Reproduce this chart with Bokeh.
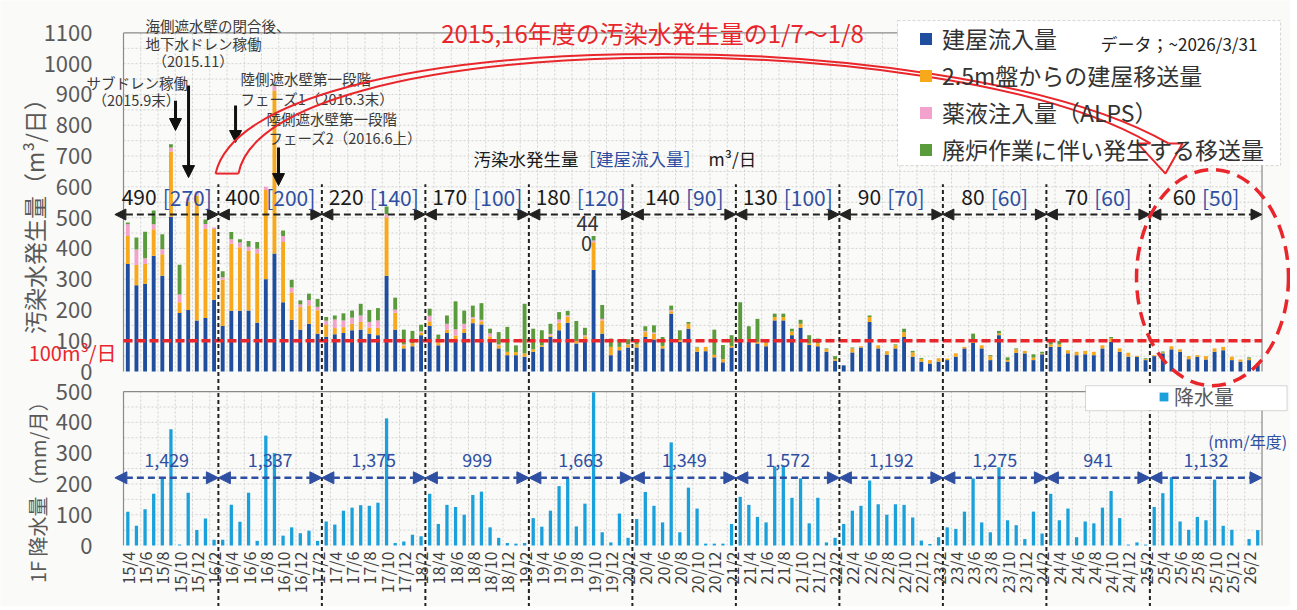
import math
from bokeh.plotting import figure
from bokeh.models import (ColumnDataSource, Range1d, FixedTicker, Label, Arrow, NormalHead,
                          Legend, LegendItem, BoxAnnotation, AllLabels, LinearAxis)
from bokeh.embed import file_html
from bokeh.resources import INLINE

FONT = "Noto Sans CJK JP"

# ---------------- data ----------------
month_index = list(range(132))          # 0 = 2015/4 ... 131 = 2026/3
tick_months = list(range(0, 132, 2))
tick_labels = [f"{15 + (m + 3) // 12}/{(m + 3) % 12 + 1}" for m in tick_months]

# 建屋流入量
inflow = [349, 280, 285, 376, 311, 503, 190, 200, 166, 174, 233, 148,
          197, 197, 198, 159, 300, 383, 225, 168, 136, 155, 123, 113,
          121, 125, 134, 136, 123, 118, 311, 136, 75, 82, 118, 148,
          85, 125, 102, 125, 157, 153, 104, 75, 53, 53, 48, 64,
          80, 112, 134, 158, 91, 96, 330, 123, 53, 69, 78, 78,
          112, 104, 75, 188, 96, 139, 64, 66, 46, 30, 78, 96,
          96, 91, 82, 166, 166, 118, 142, 86, 82, 64, 35, 20,
          62, 78, 161, 75, 55, 75, 112, 48, 32, 26, 32, 37,
          48, 75, 93, 75, 37, 118, 32, 61, 59, 37, 56, 80,
          80, 59, 53, 56, 53, 75, 96, 64, 48, 48, 37, 50,
          59, 72, 64, 40, 48, 39, 64, 69, 37, 32, 37, 21]
# 2.5m盤からの建屋移送量
transfer_25m = [91, 66, 64, 86, 70, 212, 35, 352, 405, 290, 230, 150,
                218, 207, 194, 225, 290, 530, 196, 89, 73, 60, 76, 38,
                20, 19, 21, 25, 19, 24, 190, 55, 10, 10, 8, 15,
                10, 11, 15, 14, 15, 10, 10, 10, 11, 10, 11, 8,
                5, 5, 25, 20, 8, 18, 90, 43, 27, 11, 8, 10,
                16, 19, 8, 8, 6, 16, 14, 14, 8, 10, 5, 5,
                8, 5, 12, 11, 11, 12, 13, 5, 10, 9, 5, 0,
                13, 4, 16, 10, 11, 10, 16, 14, 9, 11, 11, 5,
                11, 5, 8, 10, 13, 6, 5, 11, 8, 8, 3, 8,
                8, 10, 11, 11, 11, 10, 12, 11, 13, 3, 3, 3,
                3, 10, 8, 10, 5, 11, 11, 11, 11, 7, 5, 7]
# 薬液注入量（ALPS）
alps = [38, 50, 19, 16, 16, 13, 25, 13, 14, 15, 5, 8,
        15, 15, 13, 15, 10, 15, 19, 16, 9, 17, 11, 14,
        28, 22, 20, 21, 19, 24, 10, 10, 3, 0, 4, 18,
        3, 19, 20, 16, 5, 5, 10, 3, 0, 0, 0, 0,
        0, 5, 10, 4, 0, 4, 6, 5, 0, 0, 2, 0,
        4, 4, 0, 4, 0, 0, 0, 0, 0, 0, 0, 0,
        0, 0, 0, 0, 0, 0, 0, 0, 0, 0, 0, 0,
        0, 0, 0, 0, 0, 0, 0, 0, 0, 0, 0, 0,
        0, 0, 0, 0, 0, 0, 0, 0, 0, 0, 0, 0,
        0, 0, 0, 0, 0, 0, 0, 0, 0, 0, 0, 0,
        0, 0, 0, 0, 0, 0, 0, 0, 0, 0, 0, 0]
# 廃炉作業に伴い発生する移送量
decom = [6, 39, 86, 45, 49, 10, 97, 0, 0, 15, 0, 20,
         23, 11, 19, 22, 0, 5, 18, 25, 13, 21, 26, 12,
         13, 23, 23, 38, 39, 40, 25, 39, 48, 40, 22, 23,
         22, 27, 91, 43, 37, 54, 15, 40, 81, 22, 161, 67,
         49, 33, 24, 15, 65, 24, 14, 45, 27, 22, 17, 16,
         15, 23, 29, 14, 32, 6, 2, 0, 82, 46, 35, 124,
         43, 75, 10, 11, 11, 9, 13, 27, 15, 2, 10, 0,
         3, 0, 5, 0, 0, 3, 11, 5, 3, 0, 0, 0,
         0, 0, 22, 0, 3, 8, 9, 3, 0, 11, 5, 8,
         11, 0, 0, 0, 0, 0, 4, 0, 0, 0, 3, 0,
         3, 0, 0, 0, 0, 0, 0, 0, 0, 0, 4, 0]
# 降水量 (mm/月)
rainfall = [110, 64, 118, 168, 216, 378, 3, 171, 50, 88, 19, 19,
            132, 77, 171, 15, 357, 300, 32, 59, 40, 48, 15, 78,
            68, 113, 123, 131, 129, 139, 413, 8, 13, 35, 30, 168,
            70, 132, 125, 100, 164, 175, 59, 25, 8, 6, 8, 89,
            61, 113, 193, 218, 62, 136, 498, 43, 10, 104, 25, 86,
            174, 129, 75, 335, 43, 188, 120, 6, 6, 6, 70, 158,
            132, 93, 75, 257, 259, 155, 218, 72, 155, 10, 25, 70,
            113, 129, 211, 134, 100, 134, 132, 91, 16, 5, 27, 59,
            54, 110, 218, 75, 43, 254, 82, 66, 21, 110, 39, 168,
            82, 120, 27, 78, 72, 123, 177, 89, 3, 10, 3, 125,
            170, 222, 78, 51, 93, 82, 214, 64, 51, 0, 21, 50]

fy_edges = [-1.5, 10.5, 22.5, 34.5, 46.5, 58.5, 70.5, 82.5, 94.5, 106.5, 118.5, 131.5]
fy_total = [490, 400, 220, 170, 180, 140, 130, 90, 80, 70, 60]
fy_inflow = [270, 200, 140, 100, 120, 90, 100, 70, 60, 60, 50]
fy_rain = ["1,429", "1,337", "1,375", "999", "1,663", "1,349", "1,572", "1,192", "1,275", "941", "1,132"]
spike_month = 54                         # 2019/10

series_names = ["建屋流入量", "2.5m盤からの建屋移送量", "薬液注入量（ALPS）", "廃炉作業に伴い発生する移送量"]
series_colors = ["#1F4E9E", "#F7A81B", "#F2A2CB", "#5A9B3C"]
rain_name = "降水量"
rain_color = "#1AA0DB"
target_level = 100
RED = "#E8262B"
TXT_BLUE = "#2F4FA2"
GRAY_TXT = "#595959"

assert all(len(s) == 132 for s in (inflow, transfer_25m, alps, decom, rainfall))

# ---------------- layout constants ----------------
W, H = 1290, 606
BG = "#FAFAF8"
PX = 8.625                 # pixels per month
KY = 0.3078                # pixels per unit on both value axes
ZERO_TOP = 371             # pixel row of 0 m3/day
ZERO_BOT = 545             # pixel row of 0 mm

p = figure(width=W, height=H, x_range=Range1d(-14.761, 134.57),
           y_range=Range1d(-(H - ZERO_TOP) / KY, ZERO_TOP / KY),
           x_axis_location=None, y_axis_location=None,
           output_backend="svg", toolbar_location=None,
           min_border_left=0, min_border_right=2, min_border_top=0, min_border_bottom=0,
           background_fill_color=BG, border_fill_color=BG, outline_line_color=None)
p.extra_y_ranges = {"rain": Range1d(-(H - ZERO_BOT) / KY, ZERO_BOT / KY)}
p.grid.visible = False


def value_axis(ticks, rng="default"):
    ax = LinearAxis(y_range_name=rng, fixed_location=-0.5, ticker=FixedTicker(ticks=ticks),
                    major_label_text_font=FONT, major_label_text_font_size="22px",
                    major_label_text_color=GRAY_TXT, axis_line_color=None,
                    major_tick_line_color=None, minor_tick_line_color=None,
                    major_tick_out=0, major_tick_in=0, major_label_standoff=31)
    p.add_layout(ax, "left")


def draw_grid(ymax, step, rng="default"):
    hy = list(range(step, ymax, step))
    p.multi_line(xs=[[-0.5, 131.5] for _ in hy], ys=[[y, y] for y in hy], y_range_name=rng,
                 line_color="#d2d2d2", line_width=1, line_dash="2 2")
    vx = [m - 0.5 for m in tick_months[1:]]
    p.multi_line(xs=[[x, x] for x in vx], ys=[[0, ymax] for _ in vx], y_range_name=rng,
                 line_color="#d2d2d2", line_width=1, line_dash="2 2")
    p.multi_line(xs=[[-0.5, 131.5], [-0.5, -0.5], [131.5, 131.5]],
                 ys=[[ymax, ymax], [0, ymax], [0, ymax]], y_range_name=rng,
                 line_color="#8a8a8a", line_width=1.2)


def txt(x, y, text, size, color="#333333", align="left", baseline="middle", angle=0.0, rng="default"):
    lab = Label(x=x, y=y, text=text, text_font=FONT, text_font_size=size, text_color=color,
                text_align=align, text_baseline=baseline, angle=angle, y_range_name=rng)
    p.add_layout(lab)
    return lab


# ---------------- axes and grids ----------------
value_axis(list(range(0, 1101, 100)))
value_axis(list(range(0, 501, 100)), "rain")
draw_grid(1100, 50)
draw_grid(500, 50, "rain")

xa = LinearAxis(y_range_name="rain", fixed_location=0, ticker=FixedTicker(ticks=tick_months),
                major_label_overrides={m: lab for m, lab in zip(tick_months, tick_labels)},
                major_label_orientation=math.pi / 2, major_label_policy=AllLabels(),
                major_label_text_font=FONT, major_label_text_font_size="16px",
                major_label_text_color="#404040", major_label_standoff=6,
                axis_line_color=None, major_tick_line_color=None, minor_tick_line_color=None,
                major_tick_out=0, major_tick_in=0)
p.add_layout(xa, "below")

# ---------------- upper panel: contaminated water ----------------
src = ColumnDataSource(dict(x=month_index, inflow=inflow, transfer=transfer_25m, alps=alps, decom=decom))
stack_r = p.vbar_stack(["inflow", "transfer", "alps", "decom"], x="x", width=0.45, source=src,
                       fill_color=series_colors, line_color=None)

p.line(x=[-0.5, 131.5], y=[target_level, target_level], line_color=RED, line_width=3.5, line_dash="9 4")
txt(-11.5, 62, f"{target_level}m³/日", "20px", RED)

# fiscal-year separators (through both panels) and double arrows
inner_edges = fy_edges[1:-1]
p.multi_line(xs=[[e, e] for e in inner_edges], ys=[[-765, 608] for _ in inner_edges],
             line_color="#222222", line_width=2, line_dash="4 3")
for k in range(len(fy_total)):
    p.add_layout(Arrow(x_start=fy_edges[k], x_end=fy_edges[k + 1], y_start=510, y_end=510,
                       start=NormalHead(size=11, fill_color="#222222", line_color="#222222"),
                       end=NormalHead(size=11, fill_color="#222222", line_color="#222222"),
                       line_color="#222222", line_width=2, line_dash="7 4"))
    mid = (fy_edges[k] + fy_edges[k + 1]) / 2
    num = str(fy_total[k])
    br = f"[{fy_inflow[k]}]"
    w_num = len(num) * 11.7
    w_br = (len(br) - 2) * 11.7 + 14
    left = -(w_num + 6 + w_br) / 2
    txt(mid + (left + w_num) / PX, 567, num, "21px", "#1a1a1a", align="right")
    txt(mid + (left + w_num + 6) / PX, 567, br, "21px", TXT_BLUE, align="left")

# value label of the 2019/10 spike (wrapped on two lines as in the original)
spike_txt = str(inflow[spike_month] + transfer_25m[spike_month] + alps[spike_month] + decom[spike_month])
txt(spike_month - 0.7, 481, spike_txt[:2], "20px", "#333333", align="center")
txt(spike_month - 0.8, 416, spike_txt[2:], "20px", "#333333", align="center")

# event annotations
ev_color = "#3a3a3a"
txt(2.05, 1124, "海側遮水壁の閉合後、", "14.5px", ev_color)
txt(2.05, 1066, "地下水ドレン稼働", "14.5px", ev_color)
txt(2.86, 1010, "（2015.11）", "14.5px", ev_color)
txt(-4.79, 939, "サブドレン稼働", "14.5px", ev_color)
txt(-4.09, 884, "（2015.9末）", "14.5px", ev_color)
txt(13.07, 952, "陸側遮水壁第一段階", "14.5px", ev_color)
txt(13.07, 887, "フェーズ1（2016.3末）", "14.5px", ev_color)
txt(16.08, 822, "陸側遮水壁第一段階", "14.5px", ev_color)
txt(16.31, 760, "フェーズ2（2016.6上）", "14.5px", ev_color)
for (ax_x, y0, y1) in [(5.53, 880, 783), (7.04, 929, 630), (12.49, 864, 744), (17.47, 728, 604)]:
    p.add_layout(Arrow(x_start=ax_x, x_end=ax_x, y_start=y0, y_end=y1,
                       end=NormalHead(size=12, fill_color="#111111", line_color="#111111"),
                       line_color="#111111", line_width=3))

# centre caption
txt(40.08, 692, "汚染水発生量", "17.5px", "#1a1a1a")
txt(52.25, 692, "［建屋流入量］", "17.5px", TXT_BLUE)
txt(67.33, 692, "m³/日", "17.5px", "#1a1a1a")

# red headline
txt(60.83, 1101, "2015,16年度の汚染水発生量の1/7～1/8", "24px", RED, align="center")

# legend (box + items)
p.add_layout(BoxAnnotation(left=89.24, right=133.65, bottom=669, top=1140,
                           fill_color="white", fill_alpha=1.0,
                           line_color="#7a7a7a", line_width=1, line_dash="3 2"))
leg = Legend(items=[LegendItem(label=n, renderers=[r]) for n, r in zip(series_names, stack_r)],
             location=(918, H - 166), orientation="vertical", padding=0, spacing=3,
             glyph_width=15, glyph_height=15, label_standoff=9,
             label_text_font=FONT, label_text_font_size="23px", label_text_color="#333333",
             border_line_color=None, background_fill_alpha=0.0)
p.add_layout(leg)
txt(112.78, 1066, "データ；~2026/3/31", "17px", "#222222")

# red curved hollow arrow and dashed ellipse
curve = p.bezier(x0=[10.17, 12.83], y0=[643, 643], x1=[120.66, 118.57], y1=[741, 741],
                 cx0=[14.23, 15.96], cy0=[1140, 1114], cx1=[95.38, 94.22], cy1=[1147, 1140],
                 line_color=RED, line_width=2)
curve.level = "overlay"
head = p.line(x=[120.66, 122.28, 120.31, 117.07, 118.57], y=[741, 741, 643, 741, 741],
              line_color=RED, line_width=2)
head.level = "overlay"
tail = p.line(x=[10.17, 12.83], y=[643, 643], line_color=RED, line_width=2)
tail.level = "overlay"
ell = p.ellipse(x=[125.76], y=[305], width=[17.62], height=[702], fill_color=None,
                line_color=RED, line_width=3.5, line_dash="14 8")
ell.level = "overlay"

txt(-10.82, 523, "汚染水発生量（m³/日）", "23px", GRAY_TXT, align="center", angle=math.pi / 2)

# ---------------- lower panel: rainfall ----------------
rsrc = ColumnDataSource(dict(x=month_index, rain=rainfall))
rain_r = p.vbar(x="x", top="rain", width=0.38, source=rsrc, y_range_name="rain",
                fill_color=rain_color, line_color=None)

for k in range(len(fy_rain)):
    p.add_layout(Arrow(x_start=fy_edges[k], x_end=fy_edges[k + 1], y_start=220, y_end=220,
                       y_range_name="rain",
                       start=NormalHead(size=12, fill_color=TXT_BLUE, line_color=TXT_BLUE),
                       end=NormalHead(size=12, fill_color=TXT_BLUE, line_color=TXT_BLUE),
                       line_color=TXT_BLUE, line_width=2.5, line_dash="7 4"))
    mid = (fy_edges[k] + fy_edges[k + 1]) / 2
    txt(mid, 279, fy_rain[k], "18px", TXT_BLUE, align="center", rng="rain")
txt(134.4, 341, "(mm/年度)", "16px", TXT_BLUE, align="right", rng="rain")

p.add_layout(BoxAnnotation(left=111.04, right=134.4, bottom=438, top=519, y_range_name="rain",
                           fill_color="white", fill_alpha=1.0,
                           line_color="#7a7a7a", line_width=1))
rleg = Legend(items=[LegendItem(label=rain_name, renderers=[rain_r])],
              location=(1158, H - 411), padding=0, glyph_width=11, glyph_height=11,
              label_standoff=5, label_text_font=FONT, label_text_font_size="20px",
              label_text_color=GRAY_TXT, border_line_color=None, background_fill_alpha=0.0)
p.add_layout(rleg)

txt(-10.5, 500, "1F 降水量（mm/月）", "20px", GRAY_TXT, align="right", angle=math.pi / 2, rng="rain")

open("out.html", "w").write(file_html(p, INLINE))
